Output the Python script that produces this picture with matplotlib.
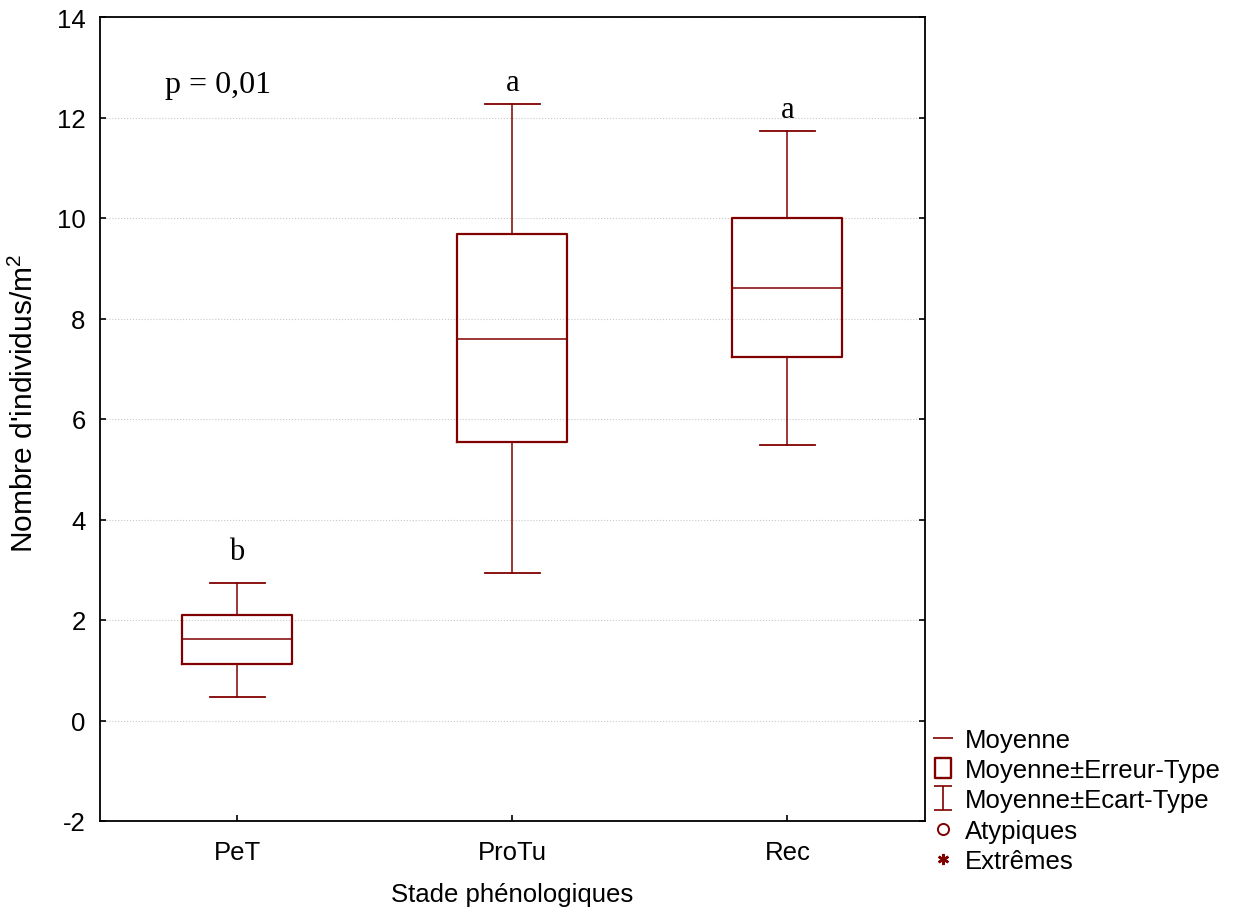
import matplotlib
matplotlib.use('Agg')
import matplotlib.pyplot as plt
from matplotlib.lines import Line2D
from matplotlib.path import Path

plt.rcParams['font.family'] = ['Liberation Sans', 'DejaVu Sans']
plt.rcParams['axes.unicode_minus'] = False

# data
stades = ['PeT', 'ProTu', 'Rec']
moyenne = [1.62, 7.59, 8.61]
erreur_bas = [1.12, 5.54, 7.23]
erreur_haut = [2.10, 9.68, 10.00]
ecart_bas = [0.47, 2.94, 5.48]
ecart_haut = [2.74, 12.27, 11.74]
lettres = ['b', 'a', 'a']
yticks = [-2, 0, 2, 4, 6, 8, 10, 12, 14]

rouge = '#800000'

fig = plt.figure(figsize=(12.34, 9.12), dpi=100)
ax = fig.add_axes([99.5 / 1234, 1 - 822 / 912, (925 - 99.5) / 1234, (822 - 18) / 912])

stats = []
for i, s in enumerate(stades):
    stats.append(dict(label=s, med=moyenne[i], q1=erreur_bas[i], q3=erreur_haut[i],
                      whislo=ecart_bas[i], whishi=ecart_haut[i], fliers=[]))

ax.bxp(stats, positions=[1, 2, 3], widths=0.4, showfliers=False,
       boxprops=dict(color=rouge, linewidth=1.6),
       whiskerprops=dict(color=rouge, linewidth=1.1),
       capprops=dict(color=rouge, linewidth=1.3),
       medianprops=dict(color=rouge, linewidth=1.1),
       capwidths=0.2)

# letters above whiskers (b sits a little higher than the a's)
decalage = [0.48, 0.28, 0.27]
for i, l in enumerate(lettres):
    ax.text(i + 1, ecart_haut[i] + decalage[i], l, ha='center', va='baseline',
            family='Liberation Serif', fontsize=22)
ax.text(0.931, 12.66, 'p = 0,01', ha='center', va='center',
        family='Liberation Serif', fontsize=23)

ax.set_xlim(0.5, 3.5)
ax.set_ylim(-2, 14)
ax.set_yticks(yticks)
ax.set_xticks([1, 2, 3])
ax.set_xticklabels(stades)
ax.tick_params(direction='in', length=4, labelsize=18.5, top=False, right=True, width=1.2)
ax.tick_params(axis='x', pad=14)
ax.tick_params(axis='y', pad=10)
ax.grid(axis='y', linestyle=':', color='#c8c8c8', linewidth=0.8)
ax.set_axisbelow(True)
for sp in ax.spines.values():
    sp.set_linewidth(1.3)

ax.set_xlabel('Stade phénologiques', fontsize=18.5, labelpad=13)
ax.set_ylabel(r"Nombre d'individus/m$^\mathregular{2}$", fontsize=21.5)
ax.yaxis.set_label_coords(-0.073, 0.521)

# legend
i_bar = Path([(-0.4, 0.5), (0.4, 0.5), (0, 0.5), (0, -0.5), (-0.4, -0.5), (0.4, -0.5)],
             [Path.MOVETO, Path.LINETO, Path.MOVETO, Path.LINETO, Path.MOVETO, Path.LINETO])
carre = Path([(-0.4, 0.5), (0.4, 0.5), (0.4, -0.5), (-0.4, -0.5), (-0.4, 0.5)],
             [Path.MOVETO, Path.LINETO, Path.LINETO, Path.LINETO, Path.CLOSEPOLY])
handles = [
    Line2D([], [], color=rouge, marker='_', markersize=14, markeredgewidth=1.2, linestyle='none'),
    Line2D([], [], color=rouge, marker=carre, markersize=15, fillstyle='none', markeredgewidth=1.7, linestyle='none'),
    Line2D([], [], color=rouge, marker=i_bar, markersize=17, markeredgewidth=1.2, linestyle='none'),
    Line2D([], [], color=rouge, marker='o', markersize=8, fillstyle='none', markeredgewidth=1.4, linestyle='none'),
    Line2D([], [], color=rouge, marker=(6, 2, 0), markersize=8, markeredgewidth=1.8, linestyle='none'),
]
noms = ['Moyenne', 'Moyenne±Erreur-Type', 'Moyenne±Ecart-Type', 'Atypiques', 'Extrêmes']
fig.legend(handles, noms, loc='upper left', bbox_to_anchor=(928 / 1234, 1 - 724 / 912),
           frameon=False, fontsize=18.5, handlelength=0.8, handletextpad=0.45,
           labelspacing=0.24, borderaxespad=0, borderpad=0.2)

fig.savefig('out.png', dpi=100)
